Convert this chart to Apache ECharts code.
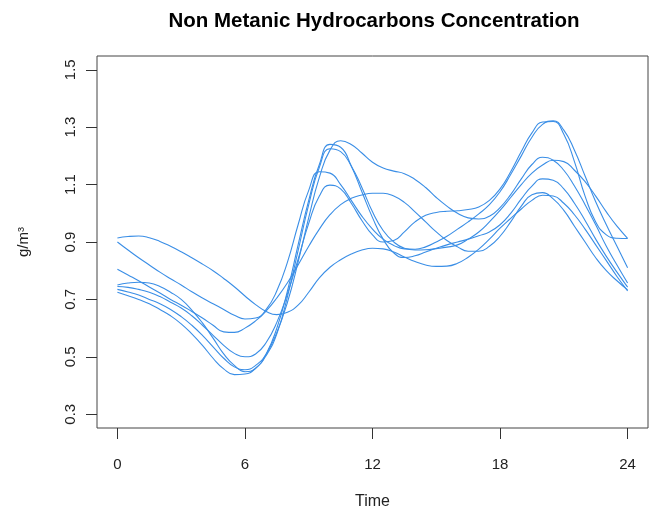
<!DOCTYPE html>
<html>
<head>
<meta charset="utf-8">
<script src="https://cdn.jsdelivr.net/npm/echarts@6/dist/echarts.min.js"></script>
<style>
html,body{margin:0;padding:0;background:#fff;}
#chart{width:649px;height:510px;}
</style>
</head>
<body>
<div id="chart"></div>
<script>
const title = 'Non Metanic Hydrocarbons Concentration';
const xName = 'Time';
const yName = 'g/m³';
const time = [0,0.5,1,1.5,2,2.5,3,3.5,4,4.5,5,5.5,6,6.5,7,7.5,8,8.5,9,9.5,10,10.5,11,11.5,12,12.5,13,13.5,14,14.5,15,15.5,16,16.5,17,17.5,18,18.5,19,19.5,20,20.5,21,21.5,22,22.5,23,23.5,24];
const xTicks = [0,6,12,18,24];
const yTicks = [0.3,0.5,0.7,0.9,1.1,1.3,1.5];

const curveA = [0.914,0.919,0.921,0.915,0.902,0.885,0.866,0.845,0.823,0.80,0.773,0.744,0.712,0.682,0.658,0.647,0.655,0.68,0.725,0.775,0.812,0.838,0.858,0.872,0.878,0.876,0.865,0.848,0.832,0.82,0.815,0.816,0.826,0.847,0.875,0.91,0.948,0.982,1.015,1.045,1.063,1.06,1.035,0.995,0.945,0.89,0.835,0.78,0.73];
const curveB = [0.90,0.872,0.845,0.82,0.795,0.772,0.75,0.727,0.705,0.685,0.665,0.645,0.632,0.635,0.665,0.73,0.83,0.96,1.08,1.145,1.14,1.10,1.045,0.99,0.945,0.91,0.888,0.876,0.875,0.883,0.90,0.92,0.945,0.97,0.998,1.03,1.075,1.135,1.20,1.265,1.31,1.322,1.29,1.22,1.13,1.04,0.96,0.885,0.81];
const curveC = [0.805,0.785,0.765,0.743,0.722,0.70,0.68,0.658,0.635,0.61,0.587,0.585,0.60,0.625,0.66,0.705,0.758,0.82,0.885,0.945,0.995,1.03,1.052,1.064,1.07,1.07,1.06,1.038,1.005,0.97,0.935,0.905,0.883,0.868,0.868,0.885,0.92,0.97,1.025,1.065,1.072,1.05,1.01,0.955,0.90,0.845,0.80,0.765,0.733];
const curveD = [0.75,0.757,0.76,0.757,0.745,0.725,0.70,0.663,0.618,0.565,0.51,0.47,0.448,0.46,0.51,0.60,0.73,0.89,1.045,1.17,1.24,1.23,1.165,1.075,0.985,0.91,0.862,0.846,0.852,0.865,0.878,0.89,0.90,0.91,0.922,0.935,0.96,1.00,1.05,1.095,1.12,1.115,1.085,1.035,0.975,0.91,0.85,0.795,0.743];
const curveE = [0.745,0.742,0.735,0.725,0.71,0.69,0.67,0.643,0.61,0.575,0.54,0.512,0.50,0.51,0.55,0.62,0.72,0.84,0.965,1.06,1.098,1.085,1.035,0.975,0.925,0.90,0.905,0.935,0.97,0.993,1.003,1.007,1.009,1.013,1.022,1.045,1.085,1.145,1.215,1.28,1.318,1.32,1.275,1.18,1.06,0.97,0.925,0.913,0.912];
const curveF = [0.735,0.726,0.715,0.70,0.685,0.665,0.64,0.61,0.575,0.535,0.495,0.465,0.455,0.47,0.51,0.585,0.69,0.83,0.985,1.125,1.22,1.253,1.24,1.21,1.178,1.158,1.147,1.138,1.118,1.09,1.055,1.025,1.00,0.984,0.98,0.99,1.02,1.065,1.12,1.17,1.195,1.185,1.15,1.095,1.03,0.96,0.885,0.82,0.757];
const curveG = [0.725,0.713,0.70,0.685,0.665,0.643,0.615,0.58,0.54,0.495,0.458,0.438,0.44,0.46,0.505,0.58,0.71,0.87,1.03,1.16,1.225,1.215,1.165,1.09,1.005,0.94,0.90,0.878,0.872,0.873,0.877,0.882,0.89,0.91,0.935,0.97,1.01,1.055,1.10,1.14,1.168,1.185,1.18,1.15,1.11,1.06,1.005,0.955,0.913];

const curves = [curveA,curveB,curveC,curveD,curveE,curveF,curveG];
const lineColor = '#3a8ee6';

const chart = echarts.init(document.getElementById('chart'), null, {renderer:'canvas'});
const font = 'Liberation Sans, Arial, Helvetica, sans-serif';

const option = {
  animation: false,
  backgroundColor: '#fff',
  title: {
    text: title,
    left: 369,
    top: 6,
    textAlign: 'center',
    textStyle: {fontFamily: font, fontSize: 20.5, fontWeight: 'bold', color: '#000'}
  },
  grid: {left: 97, right: 1, top: 56, bottom: 82, outerBoundsMode: 'none', containLabel: false,
    show: true, borderColor: '#444', borderWidth: 1, backgroundColor: 'transparent'},
  xAxis: {
    type: 'value', min: -0.96, max: 24.96,
    axisLine: {show: false, onZero: false},
    axisTick: {show: true, inside: false, length: 11, lineStyle: {color: '#333', width: 1}, customValues: xTicks},
    axisLabel: {customValues: xTicks, margin: 29, fontFamily: font, fontSize: 15, color: '#222'},
    splitLine: {show: false},
    name: xName, nameLocation: 'middle', nameGap: 66,
    nameTextStyle: {fontFamily: font, fontSize: 16, color: '#222'}
  },
  yAxis: {
    type: 'value', min: 0.252, max: 1.548,
    axisLine: {show: false, onZero: false},
    axisTick: {show: true, inside: false, length: 11, lineStyle: {color: '#333', width: 1}, customValues: yTicks},
    axisLabel: {customValues: yTicks, rotate: 90, margin: 19, fontFamily: font, fontSize: 15, color: '#222',
      formatter: v => Number(v).toFixed(1)},
    splitLine: {show: false},
    name: yName, nameLocation: 'middle', nameGap: 66, nameRotate: 90,
    nameTextStyle: {fontFamily: font, fontSize: 15, color: '#222'}
  },
  series: curves.map((c, k) => ({
    type: 'line',
    name: 'curve' + k,
    data: time.map((t, i) => [t, c[i]]),
    smooth: 0.5,
    showSymbol: false,
    silent: true,
    clip: true,
    lineStyle: {color: lineColor, width: 1.1}
  }))
};
chart.setOption(option);
</script>
</body>
</html>
